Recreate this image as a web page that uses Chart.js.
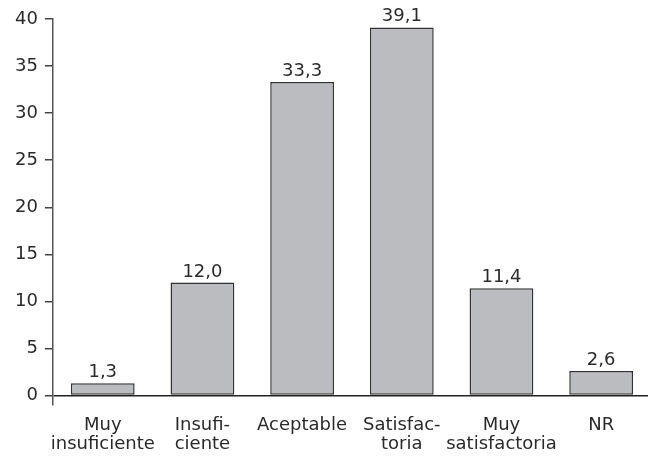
<!DOCTYPE html>
<html>
<head>
<meta charset="utf-8">
<script src="https://cdn.jsdelivr.net/npm/chart.js@4"></script>
<style>
  html, body { margin: 0; padding: 0; background: #fff; overflow: hidden; }
  #wrap { width: 651px; height: 456px; position: relative; }
</style>
</head>
<body>
<div id="wrap"><canvas id="c"></canvas></div>
<script>
// Valoración (%) por categoría
const categories = [
  ['Muy', 'insuficiente'],
  ['Insufi-', 'ciente'],
  'Aceptable',
  ['Satisfac-', 'toria'],
  ['Muy', 'satisfactoria'],
  'NR'
];
const percentages = [1.3, 12.0, 33.3, 39.1, 11.4, 2.6];
const yTicks = [0, 5, 10, 15, 20, 25, 30, 35, 40];

const FONT = '"DejaVu Sans", sans-serif';
const TEXT = '#2b2b2b';

// Writes each bar's value above it, with a decimal comma
const valueLabels = {
  id: 'valueLabels',
  afterDatasetsDraw(chart) {
    const ctx = chart.ctx;
    const meta = chart.getDatasetMeta(0);
    ctx.save();
    ctx.font = '18px ' + FONT;
    ctx.fillStyle = TEXT;
    ctx.textAlign = 'center';
    ctx.textBaseline = 'alphabetic';
    meta.data.forEach((bar, i) => {
      const txt = percentages[i].toFixed(1).replace('.', ',');
      ctx.fillText(txt, bar.x, bar.y - 6);
    });
    ctx.restore();
  }
};

new Chart(document.getElementById('c'), {
  type: 'bar',
  data: {
    labels: categories,
    datasets: [{
      data: percentages,
      backgroundColor: '#bbbcc0',
      borderColor: '#333333',
      borderWidth: 1.5,
      borderSkipped: false,
      categoryPercentage: 1.0,
      barPercentage: 0.64
    }]
  },
  options: {
    responsive: true,
    maintainAspectRatio: false,
    animation: false,
    devicePixelRatio: 1,
    layout: { padding: { top: 19, left: 8, right: 0, bottom: 0 } },
    plugins: { legend: { display: false }, tooltip: { enabled: false } },
    scales: {
      x: {
        afterFit(scale) { scale.height = 51; },
        grid: { display: false, drawTicks: false, tickLength: 0 },
        border: { display: false },
        ticks: {
          color: TEXT,
          font: { family: FONT, size: 18, lineHeight: 1.1 },
          padding: 10,
          maxRotation: 0,
          autoSkip: false
        }
      },
      y: {
        min: -1,
        max: 40,
        afterBuildTicks(scale) {
          scale.ticks = yTicks.map(v => ({ value: v }));
        },
        border: { display: true, color: '#555555', width: 1.5 },
        grid: {
          drawOnChartArea: true,
          color: c => (c.tick && c.tick.value === 0 ? '#222222' : 'rgba(0,0,0,0)'),
          lineWidth: 1.5,
          tickColor: '#444444',
          tickLength: 8
        },
        ticks: {
          color: TEXT,
          font: { family: FONT, size: 18 },
          padding: 7
        }
      }
    }
  },
  plugins: [valueLabels]
});
</script>
</body>
</html>
